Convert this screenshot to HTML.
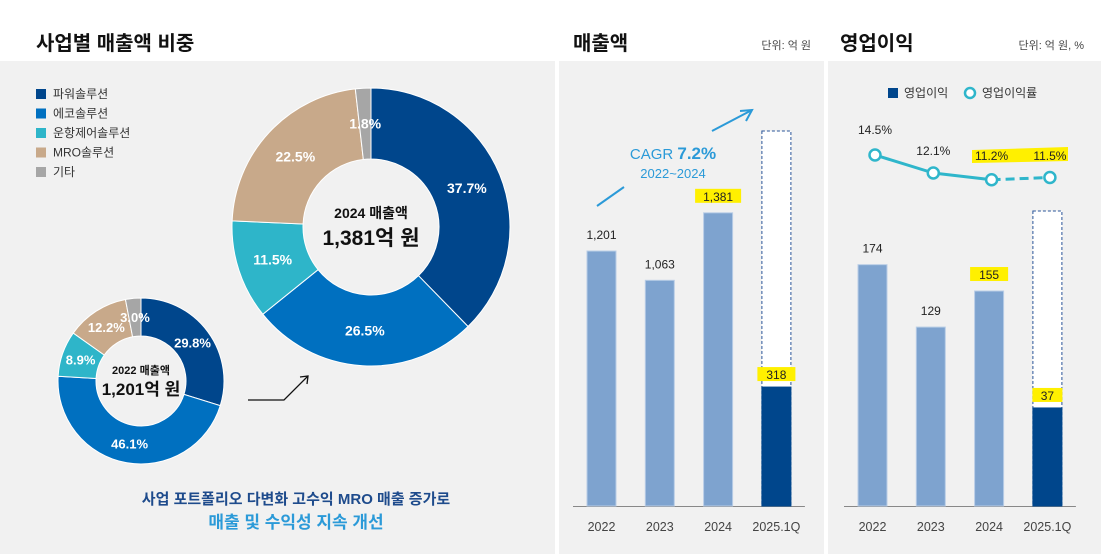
<!DOCTYPE html>
<html><head><meta charset="utf-8">
<style>
body{margin:0;width:1101px;height:554px;background:#fff;overflow:hidden;font-family:"Liberation Sans","Noto Sans CJK KR",sans-serif;}
svg{display:block}
text{font-family:"Liberation Sans","Noto Sans CJK KR",sans-serif;}
</style></head><body>
<svg id="c" width="1101" height="554" viewBox="0 0 1101 554">
<rect x="0" y="61" width="555" height="493" fill="#f1f1f1"/>
<rect x="559" y="61" width="265" height="493" fill="#f1f1f1"/>
<rect x="828" y="61" width="273" height="493" fill="#f1f1f1"/>
<text x="36" y="50" font-size="20" font-weight="bold" fill="#111">사업별 매출액 비중</text>
<text x="573" y="50" font-size="20" font-weight="bold" fill="#111">매출액</text>
<text x="811" y="49" font-size="11" fill="#444" text-anchor="end">단위: 억 원</text>
<text x="840" y="50" font-size="20" font-weight="bold" fill="#111">영업이익</text>
<text x="1084" y="49" font-size="11" fill="#444" text-anchor="end">단위: 억 원, %</text>
<g id="legend"></g>
<g id="donuts"></g>
<polyline points="248,400 284,400 308,376" fill="none" stroke="#111" stroke-width="1.3"/>
<polyline points="300,377 308,376 307,384" fill="none" stroke="#111" stroke-width="1.3"/>
<text x="296" y="504" font-size="15" font-weight="bold" fill="#1e4b8c" text-anchor="middle">사업 포트폴리오 다변화 고수익 MRO 매출 증가로</text>
<text x="296" y="528" font-size="17" font-weight="bold" fill="#2b9ad8" text-anchor="middle">매출 및 수익성 지속 개선</text>
<g id="sales"></g>
<line x1="597" y1="206" x2="624" y2="187" stroke="#2b9ad8" stroke-width="2"/>
<line x1="712" y1="131" x2="752" y2="110" stroke="#2b9ad8" stroke-width="2"/>
<polyline points="740,111 752,110 746,121" fill="none" stroke="#2b9ad8" stroke-width="2"/>
<text x="673" y="159" font-size="15" fill="#2b9ad8" text-anchor="middle">CAGR <tspan font-weight="bold" font-size="17">7.2%</tspan></text>
<text x="673" y="178" font-size="13" fill="#2b9ad8" text-anchor="middle">2022~2024</text>
<g id="profit"></g>
<rect x="888" y="88" width="10" height="10" fill="#00468c"/>
<text x="904" y="97" font-size="12" fill="#333">영업이익</text>
<circle cx="970" cy="93" r="5" fill="#fff" stroke="#2fb6cb" stroke-width="2.5"/>
<text x="982" y="97" font-size="12" fill="#333">영업이익률</text>
</svg>
<script>
const NS='http://www.w3.org/2000/svg';
function mk(p,t,a){const e=document.createElementNS(NS,t);for(const k in a)e.setAttribute(k,a[k]);p.appendChild(e);return e;}
const segNames=['파워솔루션','에코솔루션','운항제어솔루션','MRO솔루션','기타'];
const segColors=['#00468c','#0070c0','#2eb5c9','#c8a98a','#a6a6a6'];
const share2024=[37.7,26.5,11.5,22.5,1.8];
const share2022=[29.8,46.1,8.9,12.2,3.0];
const salesYears=['2022','2023','2024','2025.1Q'];
const salesVals=[1201,1063,1381,318];
const profitVals=[174,129,155,37];
const marginVals=[14.5,12.1,11.2,11.5];

const lg=document.getElementById('legend');
segNames.forEach((n,i)=>{
  const r=mk(lg,'rect',{x:36,y:89+i*19.5,width:10,height:10,fill:segColors[i]});
  
  
  const t=mk(lg,'text',{x:53,y:98+i*19.5,'font-size':12,fill:'#333'});t.textContent=n;
  
  
});

function donut(cx,cy,ro,ri,vals,fs,name){
  const g=mk(document.getElementById('donuts'),'g',{});
  
  
  const tot=vals.reduce((a,b)=>a+b,0);let a0=-Math.PI/2;
  vals.forEach((v,i)=>{
    const a1=a0+v/tot*2*Math.PI;const lf=(a1-a0)>Math.PI?1:0;
    const P=(r,a)=>[cx+r*Math.cos(a),cy+r*Math.sin(a)];
    const [x0,y0]=P(ro,a0),[x1,y1]=P(ro,a1),[x2,y2]=P(ri,a1),[x3,y3]=P(ri,a0);
    const p=mk(g,'path',{d:`M${x0},${y0}A${ro},${ro} 0 ${lf} 1 ${x1},${y1}L${x2},${y2}A${ri},${ri} 0 ${lf} 0 ${x3},${y3}Z`,fill:segColors[i],stroke:'#fff','stroke-width':1});
    
    
    const am=(a0+a1)/2,rm=(ro+ri)/2;const [lx,ly]=P(rm,am);
    const t=mk(g,'text',{x:lx,y:ly+fs*0.36,'font-size':fs,'font-weight':'bold',fill:'#fff','text-anchor':'middle'});
    t.textContent=v.toFixed(1)+'%';
    
    
    a0=a1;
  });
  return g;
}
const g24=donut(371,227,139,68,share2024,14,'donut-2024');
let t=mk(g24,'text',{x:371,y:218,'font-size':14,'font-weight':'bold',fill:'#111','text-anchor':'middle'});t.textContent='2024 매출액';

t=mk(g24,'text',{x:371,y:245,'font-size':21,'font-weight':'bold',fill:'#111','text-anchor':'middle'});t.textContent='1,381억 원';

const g22=donut(141,381,83,45,share2022,13,'donut-2022');
t=mk(g22,'text',{x:141,y:374,'font-size':11,'font-weight':'bold',fill:'#111','text-anchor':'middle'});t.textContent='2022 매출액';

t=mk(g22,'text',{x:141,y:395,'font-size':17,'font-weight':'bold',fill:'#111','text-anchor':'middle'});t.textContent='1,201억 원';


function barChart(id,x0,vals,scale,qscale,qBoxTop,prefix,hl){
  const g=document.getElementById(id);
  
  
  const base=506,bw=29,step=58.3;
  const ax=mk(g,'line',{x1:x0-14,y1:base+0.5,x2:x0+3*step+bw+14,y2:base+0.5,stroke:'#888','stroke-width':1});
  
  vals.forEach((v,i)=>{
    const x=x0+i*step;const last=i===vals.length-1;
    const h=v*(last?qscale:scale);
    if(last){const b=mk(g,'rect',{x:x,y:qBoxTop,width:bw,height:base-qBoxTop,fill:'#fff',stroke:'#2a5599','stroke-dasharray':'3,2','stroke-width':1});
      }
    const r=mk(g,'rect',{x:x,y:base-h,width:bw,height:h,fill:last?'#00468c':'#7ea3cf',stroke:last?'#00468c':'#b9cde6','stroke-width':1});
    
    
    const ly=base-h-(last?8:12);
    if(hl[i]){const hr=mk(g,'rect',{x:x+bw/2-(String(v).length*4+7),y:ly-12,width:String(v).length*8+14,height:14,fill:'#fff000'});
      }
    const vt=mk(g,'text',{x:x+bw/2,y:ly,'font-size':12,fill:'#222','text-anchor':'middle'});
    vt.textContent=v.toLocaleString('en-US');
    
    const xt=mk(g,'text',{x:x+bw/2,y:531,'font-size':12.5,fill:'#444','text-anchor':'middle'});xt.textContent=salesYears[i];
    
  });
}
barChart('sales',587,salesVals,0.2123,0.374,131,'sales',[false,false,true,true]);
barChart('profit',858,profitVals,1.387,2.65,211,'profit',[false,false,true,true]);

const pg=document.getElementById('profit');
const my=v=>155+(14.5-v)*7.5;const mx=i=>875+i*58.3;
for(let i=0;i<marginVals.length-1;i++){
  const l=mk(pg,'line',{x1:mx(i),y1:my(marginVals[i]),x2:mx(i+1),y2:my(marginVals[i+1]),stroke:'#2fb6cb','stroke-width':3});
  if(i===marginVals.length-2)l.setAttribute('stroke-dasharray','9,5');
  
}
const hb=mk(pg,'polygon',{points:'972,150 1068,147 1068,161 972,163',fill:'#fff000'});

marginVals.forEach((v,i)=>{
  const c=mk(pg,'circle',{cx:mx(i),cy:my(v),r:5.5,fill:'#fff',stroke:'#2fb6cb','stroke-width':2.5});
  
  const ty=i===0?134:(i===1?155:160);
  const tt=mk(pg,'text',{x:mx(i),y:ty,'font-size':12,fill:'#222','text-anchor':'middle'});tt.textContent=v.toFixed(1)+'%';
  
});
</script>
</body></html>
